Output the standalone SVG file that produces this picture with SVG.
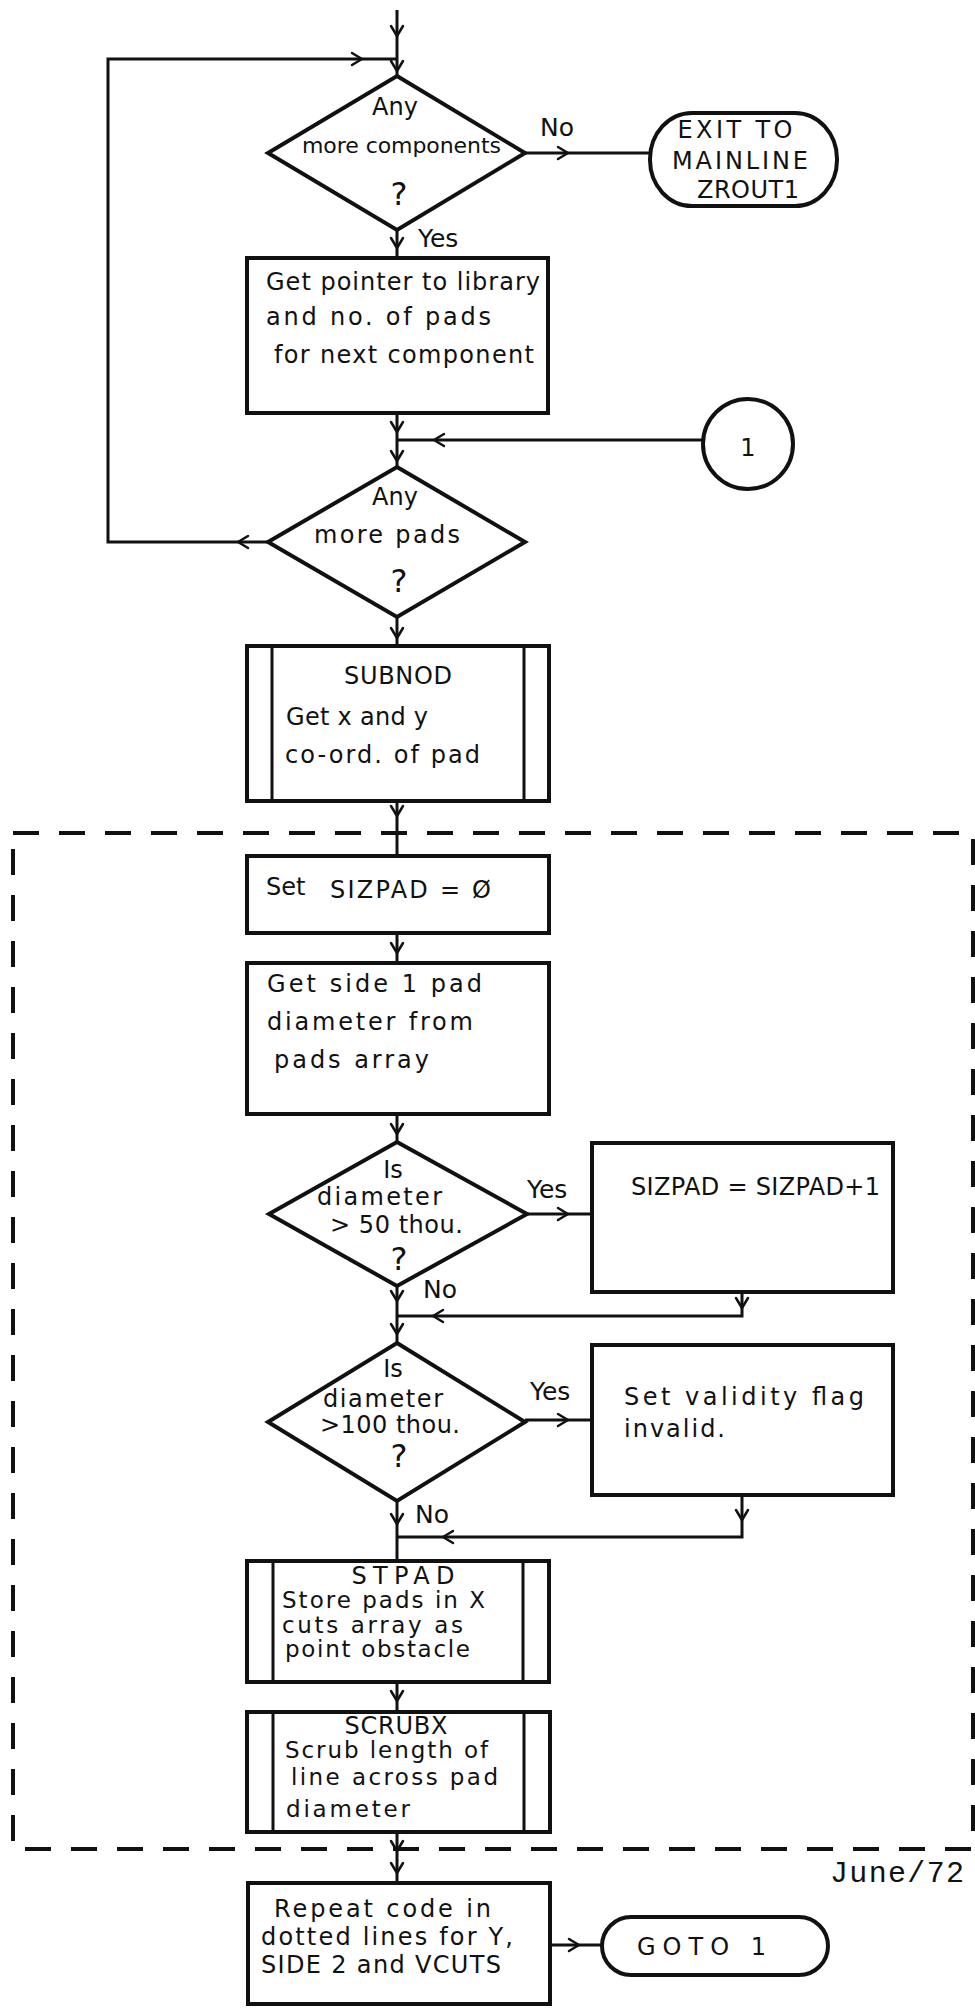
<svg xmlns="http://www.w3.org/2000/svg" xmlns:xlink="http://www.w3.org/1999/xlink" width="975" height="2009" viewBox="0 0 975 2009">
  <defs>
    <style>
      .node { fill: none; stroke: #111; stroke-width: 4; stroke-linejoin: miter; }
      .thin { fill: none; stroke: #111; stroke-width: 3; }
      .conn { fill: none; stroke: #111; stroke-width: 3; }
      .dash { fill: none; stroke: #111; stroke-width: 4; stroke-dasharray: 26 20; }
      .t { font-family: "DejaVu Sans", "Liberation Sans", sans-serif; fill: #111; font-size: 24px; }
      .cap { font-size: 24px; }
      .m { font-size: 22px; }
      .sm { font-size: 23px; }
      .lbl { font-size: 25px; }
      .q { font-size: 32px; }
      .c { text-anchor: middle; }
      .date { font-family: "Liberation Mono", "DejaVu Sans Mono", monospace; font-size: 30px; fill: #111; }
    </style>
    <!-- open chevron arrowhead, tip at origin, pointing down -->
    <path id="chev" d="M-6,-10 L0,0 L6,-10" fill="none" stroke="#111" stroke-width="2.5" stroke-linecap="round" stroke-linejoin="round"/>
  </defs>

  <rect width="975" height="2009" fill="#ffffff"/>

  <!-- connectors -->
  <g id="connectors">
    <path class="conn" d="M397,10 V77"/>
    <use href="#chev" transform="translate(397,36)"/>
    <use href="#chev" transform="translate(397,71)"/>
    <!-- loop back from "more pads" to "more components" -->
    <path class="conn" d="M268,542 H108 V59 H397"/>
    <use href="#chev" transform="translate(362,59) rotate(-90)"/>
    <use href="#chev" transform="translate(238,542) rotate(90)"/>
    <!-- No: exit -->
    <path class="conn" d="M525,153 H650"/>
    <use href="#chev" transform="translate(568,153) rotate(-90)"/>
    <!-- Yes: next component -->
    <path class="conn" d="M397,230 V258"/>
    <use href="#chev" transform="translate(397,248)"/>
    <path class="conn" d="M397,413 V467"/>
    <use href="#chev" transform="translate(397,432)"/>
    <use href="#chev" transform="translate(397,461)"/>
    <!-- entry point 1 -->
    <path class="conn" d="M703,440 H397"/>
    <use href="#chev" transform="translate(434,440) rotate(90)"/>
    <path class="conn" d="M397,617 V646"/>
    <use href="#chev" transform="translate(397,638)"/>
    <path class="conn" d="M397,801 V856"/>
    <use href="#chev" transform="translate(397,816)"/>
    <path class="conn" d="M397,933 V963"/>
    <use href="#chev" transform="translate(397,953)"/>
    <path class="conn" d="M397,1114 V1142"/>
    <use href="#chev" transform="translate(397,1134)"/>
    <!-- > 50 thou. -->
    <path class="conn" d="M527,1214 H592"/>
    <use href="#chev" transform="translate(568,1214) rotate(-90)"/>
    <path class="conn" d="M742,1292 V1316 H397"/>
    <use href="#chev" transform="translate(742,1308)"/>
    <use href="#chev" transform="translate(433,1316) rotate(90)"/>
    <path class="conn" d="M397,1286 V1343"/>
    <use href="#chev" transform="translate(397,1301)"/>
    <use href="#chev" transform="translate(397,1334)"/>
    <!-- > 100 thou. -->
    <path class="conn" d="M525,1420 H592"/>
    <use href="#chev" transform="translate(568,1420) rotate(-90)"/>
    <path class="conn" d="M742,1495 V1537 H397"/>
    <use href="#chev" transform="translate(742,1520)"/>
    <use href="#chev" transform="translate(443,1537) rotate(90)"/>
    <path class="conn" d="M397,1501 V1561"/>
    <use href="#chev" transform="translate(397,1524)"/>
    <path class="conn" d="M397,1682 V1712"/>
    <use href="#chev" transform="translate(397,1701)"/>
    <path class="conn" d="M397,1832 V1883"/>
    <use href="#chev" transform="translate(397,1851)"/>
    <use href="#chev" transform="translate(397,1873)"/>
    <path class="conn" d="M550,1945 H602"/>
    <use href="#chev" transform="translate(579,1945) rotate(-90)"/>
  </g>

  <!-- section repeated for Y, side 2 and VCUTS -->
  <g id="repeat-section">
    <rect class="dash" x="13" y="833" width="960" height="1016"/>
  </g>

  <g id="any-more-components">
    <path class="node" d="M397,76 L525,153 L397,230 L268,153 Z"/>
    <text class="t c" x="395" y="115">Any</text>
    <text class="t m" x="302" y="153" textLength="199">more components</text>
    <text class="t q c" x="399" y="205">?</text>
    <text class="t lbl" x="540" y="136">No</text>
    <text class="t lbl" x="418" y="247">Yes</text>
  </g>

  <g id="exit-mainline">
    <rect class="node" x="650" y="113" width="187" height="93" rx="42" ry="46"/>
    <text class="t cap c" x="735" y="138" textLength="115">EXIT TO</text>
    <text class="t cap c" x="740" y="169" textLength="136">MAINLINE</text>
    <text class="t cap c" x="748" y="198" textLength="102">ZROUT1</text>
  </g>

  <g id="get-pointer">
    <rect class="node" x="247" y="258" width="301" height="155"/>
    <text class="t" x="266" y="290" textLength="274">Get pointer to library</text>
    <text class="t" x="266" y="325" textLength="225">and no. of pads</text>
    <text class="t" x="274" y="363" textLength="260">for next component</text>
  </g>

  <g id="entry-1">
    <circle class="node" cx="748" cy="444" r="45"/>
    <text class="t c" x="748" y="456" font-size="30">1</text>
  </g>

  <g id="any-more-pads">
    <path class="node" d="M397,467 L525,542 L397,617 L268,542 Z"/>
    <text class="t c" x="395" y="505">Any</text>
    <text class="t" x="314" y="543" textLength="146">more pads</text>
    <text class="t q c" x="399" y="592">?</text>
  </g>

  <g id="subnod">
    <rect class="node" x="247" y="646" width="302" height="155"/>
    <path class="thin" d="M272,646 V801 M524,646 V801"/>
    <text class="t cap c" x="398" y="684" textLength="108">SUBNOD</text>
    <text class="t" x="286" y="725" textLength="142">Get x and y</text>
    <text class="t" x="285" y="763" textLength="195">co-ord. of pad</text>
  </g>

  <g id="set-sizpad">
    <rect class="node" x="247" y="856" width="302" height="77"/>
    <text class="t" x="266" y="895" font-size="25">Set</text>
    <text class="t cap" x="330" y="898" textLength="161">SIZPAD = Ø</text>
  </g>

  <g id="get-diameter">
    <rect class="node" x="247" y="963" width="302" height="151"/>
    <text class="t" x="267" y="992" textLength="215">Get side 1 pad</text>
    <text class="t" x="267" y="1030" textLength="206">diameter from</text>
    <text class="t" x="274" y="1068" textLength="155">pads array</text>
  </g>

  <g id="over-50">
    <path class="node" d="M397,1142 L527,1214 L397,1286 L269,1214 Z"/>
    <text class="t c" x="393" y="1178">Is</text>
    <text class="t" x="317" y="1205" textLength="125">diameter</text>
    <text class="t" x="330" y="1233" textLength="133">&gt; 50 thou.</text>
    <text class="t q c" x="399" y="1270" font-size="30">?</text>
    <text class="t lbl" x="527" y="1198">Yes</text>
    <text class="t lbl" x="423" y="1298">No</text>
  </g>

  <g id="increment-sizpad">
    <rect class="node" x="592" y="1143" width="301" height="149"/>
    <text class="t" x="631" y="1195" font-size="23" textLength="249">SIZPAD = SIZPAD+1</text>
  </g>

  <g id="over-100">
    <path class="node" d="M397,1343 L525,1422 L397,1501 L268,1422 Z"/>
    <text class="t c" x="393" y="1377">Is</text>
    <text class="t" x="323" y="1407" textLength="120">diameter</text>
    <text class="t" x="320" y="1433" textLength="140">&gt;100 thou.</text>
    <text class="t q c" x="399" y="1467" font-size="30">?</text>
    <text class="t lbl" x="530" y="1400">Yes</text>
    <text class="t lbl" x="415" y="1523">No</text>
  </g>

  <g id="set-invalid">
    <rect class="node" x="592" y="1345" width="301" height="150"/>
    <text class="t" x="624" y="1405" textLength="240">Set validity flag</text>
    <text class="t" x="624" y="1437" textLength="101">invalid.</text>
  </g>

  <g id="stpad">
    <rect class="node" x="247" y="1561" width="302" height="121"/>
    <path class="thin" d="M273,1561 V1682 M523,1561 V1682"/>
    <text class="t cap c" x="403" y="1584" textLength="103">STPAD</text>
    <text class="t sm" x="282" y="1608" textLength="203">Store pads in X</text>
    <text class="t sm" x="282" y="1633" textLength="181">cuts array as</text>
    <text class="t sm" x="285" y="1657" textLength="185">point obstacle</text>
  </g>

  <g id="scrubx">
    <rect class="node" x="247" y="1712" width="303" height="120"/>
    <path class="thin" d="M273,1712 V1832 M524,1712 V1832"/>
    <text class="t cap c" x="396" y="1734" textLength="103">SCRUBX</text>
    <text class="t sm" x="285" y="1758" textLength="203">Scrub length of</text>
    <text class="t sm" x="291" y="1785" textLength="207">line across pad</text>
    <text class="t sm" x="286" y="1817" textLength="124">diameter</text>
  </g>

  <g id="repeat-code">
    <rect class="node" x="248" y="1883" width="302" height="121"/>
    <text class="t" x="274" y="1917" textLength="217">Repeat code in</text>
    <text class="t" x="261" y="1945" textLength="252">dotted lines for Y,</text>
    <text class="t" x="261" y="1973" textLength="240">SIDE 2 and VCUTS</text>
  </g>

  <g id="goto-1">
    <rect class="node" x="602" y="1917" width="226" height="58" rx="29" ry="29"/>
    <text class="t" x="637" y="1955" font-size="27" textLength="129">GOTO 1</text>
  </g>

  <g id="date">
    <text class="date" x="830" y="1882" textLength="134">June/72</text>
  </g>
</svg>
